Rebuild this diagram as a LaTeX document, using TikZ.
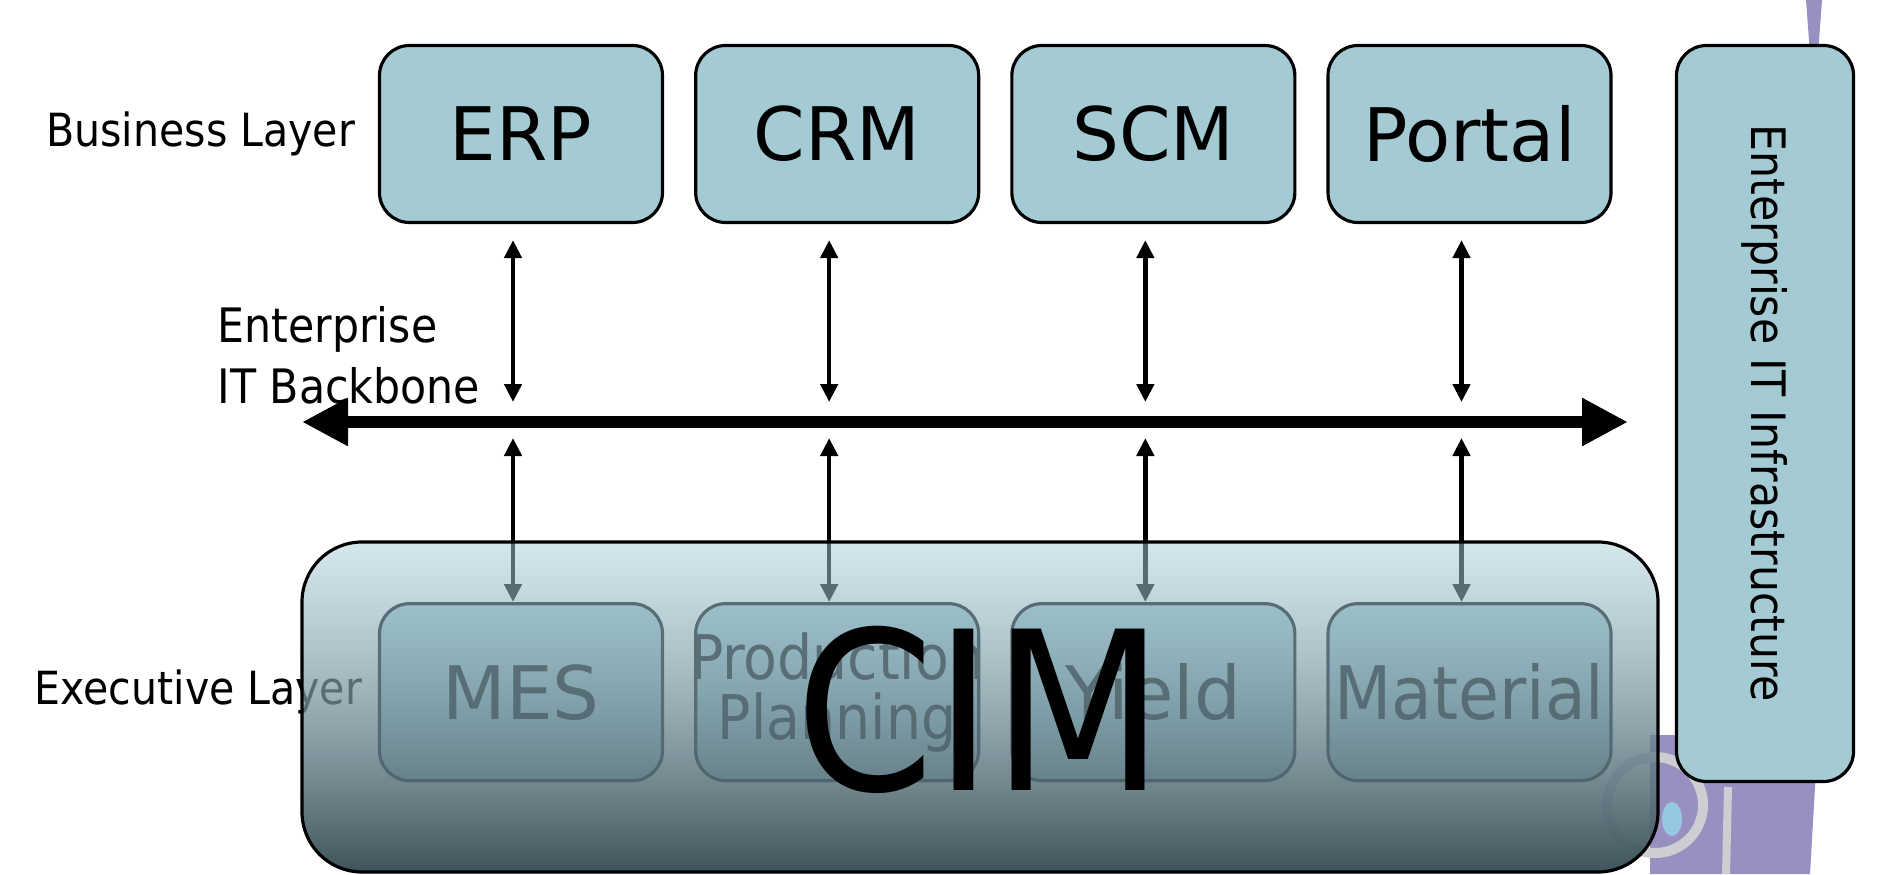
\documentclass[tikz,border=0pt]{standalone}
\usepackage{fontspec}
\setmainfont{DejaVu Sans Condensed}
\newfontfamily\widefont{DejaVu Sans}
\usetikzlibrary{positioning,calc,arrows.meta,fadings}

\definecolor{boxfill}{RGB}{164,203,212}
\definecolor{bgpurple}{RGB}{152,144,192}
\definecolor{ringgray}{RGB}{206,206,210}
\definecolor{blobblue}{RGB}{150,200,225}
\definecolor{cimtop}{RGB}{169,207,218}
\definecolor{cimmid}{RGB}{117,155,165}
\definecolor{cimbot}{RGB}{64,83,91}

\tikzfading[name=cimfade, top color=transparent!50, middle color=transparent!35, bottom color=transparent!0]

\begin{document}
\begin{tikzpicture}[
  layerbox/.style={rectangle, rounded corners=0.3cm, draw=black, line width=0.9pt, fill=boxfill, minimum width=2.83cm, minimum height=1.77cm, inner sep=0pt, align=center, font=\widefont\fontsize{21}{17}\selectfont},
  lbl/.style={inner sep=0pt, font=\fontsize{13}{17.3}\selectfont},
  link/.style={line width=1.3pt, {Triangle[length=0.18cm,width=0.17cm]}-{Triangle[length=0.18cm,width=0.17cm]}},
  bus/.style={line width=0.12cm, {Triangle[length=0.46cm,width=0.45cm]}-{Triangle[length=0.46cm,width=0.45cm]}}
]
\useasboundingbox (0,0) rectangle (18.8,8.74);
\fill[white] (0,0) rectangle (18.8,8.74);

% slide background peeking out on the right
\fill[bgpurple] (18.06,8.74) -- (18.22,8.74) -- (18.18,8.2) -- (18.1,8.2) -- cycle;
\fill[bgpurple] (16.5,1.39) -- (18.18,1.39) -- (18.1,0) -- (16.5,0) -- cycle;
\draw[ringgray, line width=0.1cm] (16.55,0.69) circle (0.48);
\draw[ringgray, line width=0.08cm] (17.28,0.87) -- (17.26,0);
\fill[blobblue] (16.72,0.55) ellipse (0.1 and 0.17);

% business layer
\node[layerbox] (erp) at (5.21,7.40) {ERP};
\node[layerbox, right=0.30cm of erp] (crm) {CRM};
\node[layerbox, right=0.30cm of crm] (scm) {SCM};
\node[layerbox, right=0.30cm of scm] (portal) {Portal};
\node[lbl, left=0.22cm of erp] (bizlabel) {Business Layer};

% executive layer
\node[layerbox, below=3.78cm of erp] (mes) {MES};
\node[layerbox, below=3.78cm of crm, font=\fontsize{17.5}{17}\selectfont] (prod) {\makebox[0pt]{Production}\\\makebox[0pt]{Planning}};
\node[layerbox, below=3.78cm of scm] (yield) {Yield};
\node[layerbox, below=3.78cm of portal, font=\fontsize{21}{17}\selectfont] (mat) {Material};
\node[lbl, left=0.15cm of mes] (exelabel) {Executive Layer};

% backbone
\coordinate (bbl) at (3.02,4.52);
\coordinate (bbr) at (16.28,4.52);
\draw[bus] (bbl) -- (bbr);
\node[lbl, align=left, anchor=west, font=\fontsize{13.5}{17.3}\selectfont] (backbonelabel) at (2.17,5.19) {Enterprise\\IT Backbone};

\foreach \biz/\exe in {erp/mes, crm/prod, scm/yield, portal/mat} {
  \draw[link] ($(\biz.south)+(-0.08,-0.16)$) -- ($(\biz.south |- bbl)+(-0.08,0.2)$);
  \draw[link] ($(\biz.south |- bbl)+(-0.08,-0.16)$) -- ($(\exe.north)+(-0.08,0)$);
}

% CIM overlay
\coordinate (cimsw) at (3.02,0.02);
\coordinate (cimne) at (16.58,3.32);
\shade[rounded corners=0.6cm, top color=cimtop, middle color=cimmid, bottom color=cimbot, path fading=cimfade, fit fading=true] (cimsw) rectangle (cimne);
\draw[rounded corners=0.6cm, line width=0.9pt] (cimsw) rectangle (cimne);
\node[inner sep=0pt, font=\fontsize{63}{63}\selectfont] (cim) at (9.80,1.64) {CIM};

% infrastructure column
\node[layerbox, rotate=-90, minimum width=7.36cm, minimum height=1.77cm, font=\fontsize{13.5}{17.3}\selectfont] (infra) at (17.65,4.605) {Enterprise IT Infrastructure};

\end{tikzpicture}
\end{document}
